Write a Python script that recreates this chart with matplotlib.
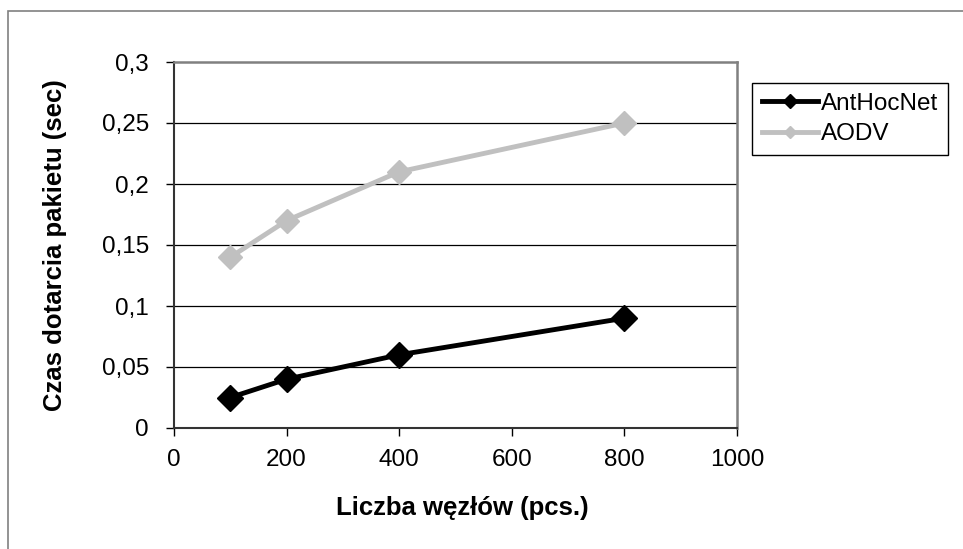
import matplotlib
matplotlib.use("Agg")
import matplotlib.pyplot as plt
from matplotlib.patches import Rectangle
from matplotlib.ticker import FuncFormatter

plt.rcParams['font.family'] = ['Liberation Sans', 'DejaVu Sans']

nodes = [100, 200, 400, 800]
anthocnet = [0.025, 0.04, 0.06, 0.09]
aodv = [0.14, 0.17, 0.21, 0.25]

xticks = [0, 200, 400, 600, 800, 1000]
yticks = [0, 0.05, 0.1, 0.15, 0.2, 0.25, 0.3]

W, H = 963, 549
fig = plt.figure(figsize=(W / 100, H / 100), dpi=100)

# outer chart border (right/bottom edges run off the picture)
fig.patches.append(Rectangle((8 / W, -0.1), 1.2, 1 - 11 / H + 0.1,
                             transform=fig.transFigure, fill=False,
                             edgecolor='#808080', lw=1.2))

ax = fig.add_axes([174 / W, 1 - 428 / H, (737 - 174) / W, (428 - 62) / H])

for y in yticks[1:-1]:
    ax.axhline(y, color='black', lw=0.9, zorder=1)

ax.plot(nodes, anthocnet, color='black', lw=3.5, marker='D', ms=13,
        label='AntHocNet', zorder=3)
ax.plot(nodes, aodv, color='#c0c0c0', lw=3.5, marker='D', ms=12,
        label='AODV', zorder=3)

ax.set_xlim(0, 1000)
ax.set_ylim(0, 0.3)
ax.set_xticks(xticks)
ax.set_yticks(yticks)
ax.yaxis.set_major_formatter(FuncFormatter(lambda v, p: ('%g' % v).replace('.', ',')))
ax.tick_params(direction='out', length=6, width=1, labelsize=17.5,
               colors='black')
ax.tick_params(axis='y', pad=12)
ax.tick_params(axis='x', pad=9)

for s in ['top', 'right']:
    ax.spines[s].set_color('#808080')
    ax.spines[s].set_linewidth(1.8)
for s in ['left', 'bottom']:
    ax.spines[s].set_color('#333333')
    ax.spines[s].set_linewidth(1.5)

fig.text(462 / W, 1 - 508 / H, 'Liczba węzłów (pcs.)', fontsize=18.5,
         fontweight='bold', ha='center', va='center')
fig.text(55 / W, 1 - 245 / H, 'Czas dotarcia pakietu (sec)', fontsize=18.5,
         fontweight='bold', ha='center', va='center', rotation=90)

leg = fig.legend(loc='upper left', bbox_to_anchor=(752 / W, 1 - 83 / H),
                 fontsize=17.5, frameon=True, fancybox=False, framealpha=1,
                 edgecolor='black', handlelength=2.3, handletextpad=0.15,
                 markerscale=0.55, borderpad=0.4, labelspacing=0.35,
                 borderaxespad=0)
leg.get_frame().set_linewidth(1.0)

fig.savefig('out.png', dpi=100)
